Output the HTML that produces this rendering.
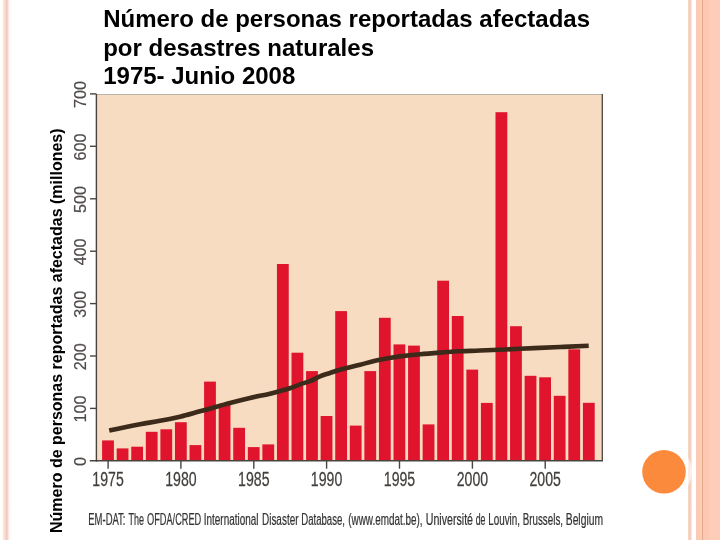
<!DOCTYPE html>
<html lang="es"><head><meta charset="utf-8"><title>Número de personas reportadas afectadas por desastres naturales</title>
<style>
html,body{margin:0;padding:0;background:#fff;}
body{width:720px;height:540px;overflow:hidden;position:relative;font-family:"Liberation Sans",sans-serif;}
svg{position:absolute;left:0;top:0;display:block}
svg text{font-family:"Liberation Sans",sans-serif;}
</style></head><body>
<svg width="720" height="540" viewBox="0 0 720 540">
<defs>
<linearGradient id="ls" gradientUnits="userSpaceOnUse" x1="0" x2="13" y1="0" y2="0">
<stop offset="0" stop-color="#fffefa"/><stop offset="0.23" stop-color="#fffdf5"/><stop offset="0.28" stop-color="#efe0d0"/>
<stop offset="0.35" stop-color="#fbe0d6"/><stop offset="0.42" stop-color="#f8d5cb"/><stop offset="0.52" stop-color="#f0c8c0"/>
<stop offset="0.62" stop-color="#f8dcd6"/><stop offset="0.7" stop-color="#fff5f2"/><stop offset="0.85" stop-color="#fbffff"/><stop offset="1" stop-color="#fff"/>
</linearGradient>
<linearGradient id="rs" gradientUnits="userSpaceOnUse" x1="687.5" x2="692.3" y1="0" y2="0">
<stop offset="0" stop-color="#fff"/><stop offset="0.15" stop-color="#f9d9c9"/><stop offset="0.45" stop-color="#f3c7b4"/><stop offset="0.8" stop-color="#fbdccf"/><stop offset="1" stop-color="#fff"/>
</linearGradient>
</defs>
<rect width="720" height="540" fill="#fff"/>
<!-- left stripe -->
<rect x="0" y="0" width="13" height="540" fill="url(#ls)"/>
<!-- right band -->
<rect x="687.5" y="0" width="4.8" height="540" fill="url(#rs)"/>
<rect x="696" y="0" width="24" height="540" fill="#fccab7"/>
<rect x="700" y="0" width="2" height="540" fill="#fdcfae"/>
<rect x="702" y="0" width="1" height="540" fill="#e2aa8e"/>
<rect x="703" y="0" width="6" height="540" fill="#fdc8b1"/>
<rect x="709" y="0" width="11" height="540" fill="#fdcdba"/>
<!-- circle -->
<circle cx="664" cy="471.8" r="28" fill="#fff" fill-opacity="0.62"/>
<circle cx="664" cy="471.8" r="21.8" fill="#fc8a3c"/>
<!-- title -->
<g font-weight="bold" font-size="24" fill="#000">
<text x="103.2" y="26.9">Número de personas reportadas afectadas</text>
<text x="103.2" y="55.7">por desastres naturales</text>
<text x="103.2" y="84.2">1975- Junio 2008</text>
</g>
<!-- plot -->
<rect x="96.5" y="94.5" width="505.5" height="366" fill="#f8dcc1"/>
<line x1="96" x2="602" y1="94.5" y2="94.5" stroke="#b9b3a8" stroke-width="1"/>
<line x1="602.3" x2="602.3" y1="94" y2="461" stroke="#4a433e" stroke-width="1.3"/>
<g fill="#e0152d">
<rect x="102.10" y="440.4" width="11.8" height="20.2"/>
<rect x="116.67" y="448.4" width="11.8" height="12.2"/>
<rect x="131.24" y="446.7" width="11.8" height="13.9"/>
<rect x="145.81" y="431.8" width="11.8" height="28.8"/>
<rect x="160.38" y="429.3" width="11.8" height="31.3"/>
<rect x="174.95" y="422.2" width="11.8" height="38.4"/>
<rect x="189.52" y="445.1" width="11.8" height="15.5"/>
<rect x="204.09" y="381.6" width="11.8" height="79.0"/>
<rect x="218.66" y="405.0" width="11.8" height="55.6"/>
<rect x="233.23" y="427.8" width="11.8" height="32.8"/>
<rect x="247.80" y="447.1" width="11.8" height="13.5"/>
<rect x="262.37" y="444.4" width="11.8" height="16.2"/>
<rect x="276.94" y="264.0" width="11.8" height="196.6"/>
<rect x="291.51" y="352.7" width="11.8" height="107.9"/>
<rect x="306.08" y="371.1" width="11.8" height="89.5"/>
<rect x="320.65" y="416.0" width="11.8" height="44.6"/>
<rect x="335.22" y="311.1" width="11.8" height="149.5"/>
<rect x="349.79" y="425.6" width="11.8" height="35.0"/>
<rect x="364.36" y="371.1" width="11.8" height="89.5"/>
<rect x="378.93" y="317.8" width="11.8" height="142.8"/>
<rect x="393.50" y="344.4" width="11.8" height="116.2"/>
<rect x="408.07" y="345.6" width="11.8" height="115.0"/>
<rect x="422.64" y="424.4" width="11.8" height="36.2"/>
<rect x="437.21" y="280.7" width="11.8" height="179.9"/>
<rect x="451.78" y="316.0" width="11.8" height="144.6"/>
<rect x="466.35" y="369.6" width="11.8" height="91.0"/>
<rect x="480.92" y="402.9" width="11.8" height="57.7"/>
<rect x="495.49" y="112.2" width="11.8" height="348.4"/>
<rect x="510.06" y="326.2" width="11.8" height="134.4"/>
<rect x="524.63" y="375.8" width="11.8" height="84.8"/>
<rect x="539.20" y="377.3" width="11.8" height="83.3"/>
<rect x="553.77" y="395.8" width="11.8" height="64.8"/>
<rect x="568.34" y="349.3" width="11.8" height="111.3"/>
<rect x="582.91" y="402.8" width="11.8" height="57.8"/>
</g>
<path d="M109.2,430.5 C114.3,429.4 131.5,425.8 140.0,424.2 C148.5,422.6 153.3,422.1 160.0,420.8 C166.7,419.6 173.3,418.3 180.0,416.7 C186.7,415.1 193.3,413.1 200.0,411.3 C206.7,409.5 215.0,407.2 220.0,405.8 C225.0,404.4 225.0,404.3 230.0,403.0 C235.0,401.7 243.3,399.6 250.0,398.0 C256.7,396.4 263.3,395.3 270.0,393.7 C276.7,392.1 285.0,389.9 290.0,388.3 C295.0,386.7 296.7,385.5 300.0,384.3 C303.3,383.1 306.7,382.5 310.0,381.2 C313.3,379.9 316.7,377.7 320.0,376.3 C323.3,374.9 326.7,374.1 330.0,373.0 C333.3,371.9 335.0,371.1 340.0,369.7 C345.0,368.3 353.3,366.4 360.0,364.7 C366.7,363.0 373.3,361.1 380.0,359.7 C386.7,358.3 393.3,357.3 400.0,356.4 C406.7,355.5 413.3,354.8 420.0,354.2 C426.7,353.6 433.3,353.1 440.0,352.6 C446.7,352.1 453.3,351.7 460.0,351.3 C466.7,350.9 470.0,350.9 480.0,350.5 C490.0,350.1 506.7,349.4 520.0,348.8 C533.3,348.2 548.5,347.5 560.0,347.0 C571.5,346.5 583.9,346.0 588.7,345.8" fill="none" stroke="#3c2a1b" stroke-width="4.6" stroke-linejoin="round" stroke-linecap="butt"/>
<g stroke="#4a4440" stroke-width="1.4">
<line x1="96.4" x2="96.4" y1="94" y2="461.7"/>
<line x1="89.8" x2="602.9" y1="460.8" y2="460.8"/>
<line x1="90" x2="96.5" y1="408.4" y2="408.4"/>
<line x1="90" x2="96.5" y1="356.0" y2="356.0"/>
<line x1="90" x2="96.5" y1="303.6" y2="303.6"/>
<line x1="90" x2="96.5" y1="251.2" y2="251.2"/>
<line x1="90" x2="96.5" y1="198.8" y2="198.8"/>
<line x1="90" x2="96.5" y1="146.3" y2="146.3"/>
<line x1="90" x2="96.5" y1="93.9" y2="93.9"/>
<line x1="108.1" x2="108.1" y1="461" y2="468.7"/>
<line x1="180.9" x2="180.9" y1="461" y2="468.7"/>
<line x1="253.8" x2="253.8" y1="461" y2="468.7"/>
<line x1="326.6" x2="326.6" y1="461" y2="468.7"/>
<line x1="399.5" x2="399.5" y1="461" y2="468.7"/>
<line x1="472.4" x2="472.4" y1="461" y2="468.7"/>
<line x1="545.2" x2="545.2" y1="461" y2="468.7"/>
</g>
<g font-size="17" fill="#504b49" stroke="#504b49" stroke-width="0.2">
<text transform="translate(85.7,461.5) rotate(-90) scale(0.95,1)" text-anchor="middle">0</text>
<text transform="translate(85.7,409.1) rotate(-90) scale(0.95,1)" text-anchor="middle">100</text>
<text transform="translate(85.7,356.7) rotate(-90) scale(0.95,1)" text-anchor="middle">200</text>
<text transform="translate(85.7,304.3) rotate(-90) scale(0.95,1)" text-anchor="middle">300</text>
<text transform="translate(85.7,251.9) rotate(-90) scale(0.95,1)" text-anchor="middle">400</text>
<text transform="translate(85.7,199.5) rotate(-90) scale(0.95,1)" text-anchor="middle">500</text>
<text transform="translate(85.7,147.0) rotate(-90) scale(0.95,1)" text-anchor="middle">600</text>
<text transform="translate(85.7,94.6) rotate(-90) scale(0.95,1)" text-anchor="middle">700</text>
</g>
<g font-size="20.5" fill="#423e3c" stroke="#423e3c" stroke-width="0.25">
<text transform="translate(108.1,485.5) scale(0.69,1)" text-anchor="middle">1975</text>
<text transform="translate(180.9,485.5) scale(0.69,1)" text-anchor="middle">1980</text>
<text transform="translate(253.8,485.5) scale(0.69,1)" text-anchor="middle">1985</text>
<text transform="translate(326.6,485.5) scale(0.69,1)" text-anchor="middle">1990</text>
<text transform="translate(399.5,485.5) scale(0.69,1)" text-anchor="middle">1995</text>
<text transform="translate(472.4,485.5) scale(0.69,1)" text-anchor="middle">2000</text>
<text transform="translate(545.2,485.5) scale(0.69,1)" text-anchor="middle">2005</text>
</g>
<text transform="translate(62,533) rotate(-90)" font-size="16" font-weight="bold" fill="#000">Número de personas reportadas afectadas (millones)</text>
<text y="524.8" font-size="15.6" fill="#333" stroke="#333" stroke-width="0.22"><tspan x="88.25" textLength="37.25" lengthAdjust="spacingAndGlyphs">EM-DAT:</tspan> <tspan x="128.50" textLength="15.50" lengthAdjust="spacingAndGlyphs">The</tspan> <tspan x="147.00" textLength="54.25" lengthAdjust="spacingAndGlyphs">OFDA/CRED</tspan> <tspan x="203.75" textLength="54.75" lengthAdjust="spacingAndGlyphs">International</tspan> <tspan x="262.00" textLength="36.50" lengthAdjust="spacingAndGlyphs">Disaster</tspan> <tspan x="301.25" textLength="43.75" lengthAdjust="spacingAndGlyphs">Database,</tspan> <tspan x="348.25" textLength="74.25" lengthAdjust="spacingAndGlyphs">(www.emdat.be),</tspan> <tspan x="425.75" textLength="47.25" lengthAdjust="spacingAndGlyphs">Université</tspan> <tspan x="475.75" textLength="9.75" lengthAdjust="spacingAndGlyphs">de</tspan> <tspan x="488.25" textLength="31.75" lengthAdjust="spacingAndGlyphs">Louvin,</tspan> <tspan x="522.75" textLength="40.25" lengthAdjust="spacingAndGlyphs">Brussels,</tspan> <tspan x="565.75" textLength="37.25" lengthAdjust="spacingAndGlyphs">Belgium</tspan></text>
</svg>
</body></html>
